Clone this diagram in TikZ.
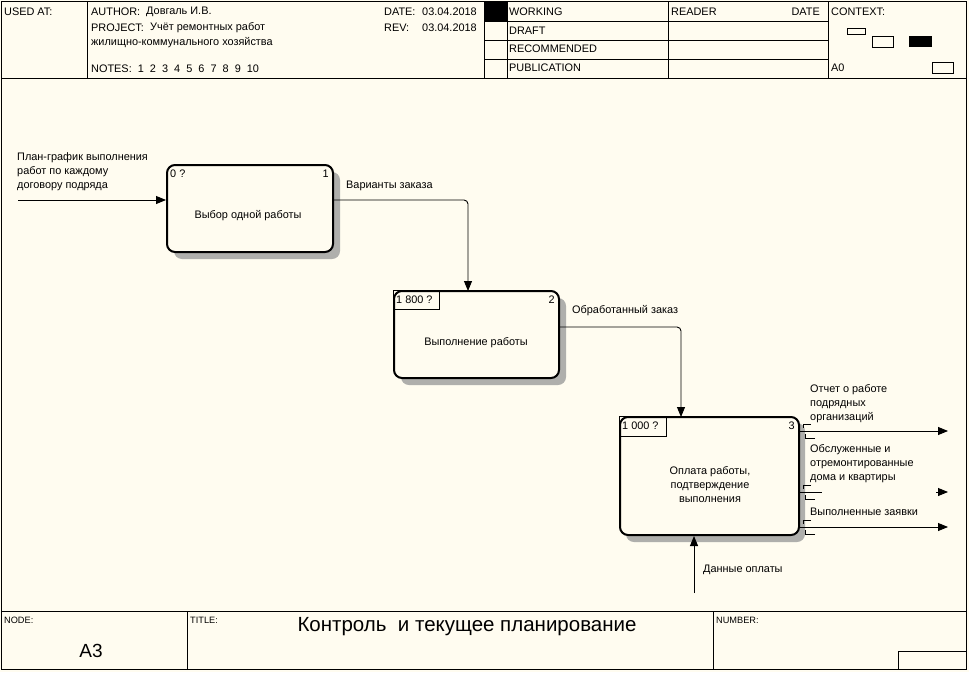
\documentclass[tikz,border=0pt]{standalone}
\usepackage{fontspec}
\setmainfont{Liberation Sans}
\usetikzlibrary{arrows.meta,calc}
\definecolor{bg}{RGB}{255,252,240}
\definecolor{shad}{RGB}{175,175,172}
\begin{document}
\begin{tikzpicture}[x=1pt,y=-1pt,
  every node/.style={font=\fontsize{10.9}{12}\selectfont, inner sep=0pt},
  lbl/.style={anchor=west},
  multi/.style={anchor=west, align=left, font=\fontsize{10.9}{14}\selectfont},
  small/.style={anchor=west, font=\fontsize{9.2}{10}\selectfont},
  frame/.style={draw=black, line width=0.9pt},
  proc/.style={draw=black, line width=2pt, rounded corners=8pt, fill=bg, rectangle},
  numbox/.style={draw=black, line width=0.8pt},
  shadow/.style={fill=shad, rounded corners=8pt},
  arr/.style={-{Triangle[length=10pt,width=8pt]}, line width=0.9pt},
  plain/.style={line width=0.9pt},
  brk/.style={line width=0.7pt}
]
\useasboundingbox (0,0) rectangle (969,672);
\fill[bg] (0,0) rectangle (969,672);

% outer frame
\draw[frame] (1,1) rectangle (966,669);
% header
\draw[frame] (1,78) -- (966,78);
\draw[frame] (87,1) -- (87,78);
\draw[frame] (484,1) -- (484,78);
\draw[frame] (507,1) -- (507,78);
\draw[frame] (668,1) -- (668,78);
\draw[frame] (828,1) -- (828,78);
\draw[frame] (484,21) -- (828,21);
\draw[frame] (484,40) -- (828,40);
\draw[frame] (484,59) -- (828,59);
\fill[black] (484,1) rectangle (507,21);

\node[lbl] (usedat) at (4,12) {USED AT:};
\node[lbl] (author) at (91,12) {AUTHOR:};
\node[lbl] (authorv) at (146,12) {Довгаль И.В.};
\node[lbl] (project) at (91,28) {PROJECT:};
\node[lbl] (projectv) at (150,28) {Учёт ремонтных работ};
\node[lbl] (project2) at (91,43) {жилищно-коммунального хозяйства};
\node[lbl] (notes) at (91,69) {NOTES:\ \ 1\ \ 2\ \ 3\ \ 4\ \ 5\ \ 6\ \ 7\ \ 8\ \ 9\ \ 10};
\node[lbl] (date) at (384,12) {DATE:};
\node[lbl] (datev) at (422,12) {03.04.2018};
\node[lbl] (rev) at (384,28) {REV:};
\node[lbl] (revv) at (422,28) {03.04.2018};
\node[lbl] (working) at (509,12) {WORKING};
\node[lbl] (draft) at (509,31) {DRAFT};
\node[lbl] (recom) at (509,49) {RECOMMENDED};
\node[lbl] (publ) at (509,68) {PUBLICATION};
\node[lbl] (reader) at (671,12) {READER};
\node[anchor=east] (rdate) at (820,12) {DATE};
\node[lbl] (context) at (831,12) {CONTEXT:};
\node[lbl] (a0) at (831,68) {A0};
\draw[line width=0.8pt] (847,28) rectangle (865,34);
\draw[line width=0.8pt] (872,36) rectangle (893,47);
\fill[black] (909,36) rectangle (932,47);
\draw[line width=0.8pt] (932,62) rectangle (953,73);

% footer
\draw[frame] (1,611) -- (966,611);
\draw[frame] (187,611) -- (187,669);
\draw[frame] (713,611) -- (713,669);
\draw[frame] (898,651) -- (966,651);
\draw[frame] (898,651) -- (898,669);
\node[small] (nodel) at (4,620) {NODE:};
\node[small] (titlel) at (190,620) {TITLE:};
\node[small] (numberl) at (716,620) {NUMBER:};
\node[font=\fontsize{19}{22}\selectfont] (nodev) at (91,651) {A3};
\node[font=\fontsize{20.5}{22}\selectfont] (title) at (467,627) {Контроль\ \ и текущее планирование};

% shadows
\fill[shadow] (174,172) rectangle (340,259);
\fill[shadow] (401,298) rectangle (566,385);
\fill[shadow] (626,423) rectangle (805,542);

% process boxes
\node[proc, minimum width=166pt, minimum height=87pt] (b1) at (250,208.5) {};
\node[proc, minimum width=165pt, minimum height=87pt] (b2) at (476.5,334.5) {};
\node[proc, minimum width=179pt, minimum height=118pt] (b3) at (709.5,476) {};

\node[lbl] (b1c) at ($(b1.north west)+(4,10)$) {0 ?};
\node[anchor=east] (b1n) at ($(b1.north east)+(-5,10)$) {1};
\node (b1t) at (248,216) {Выбор одной работы};

\draw[numbox] (b2.north west) rectangle ($(b2.north west)+(46,19)$);
\node[lbl] (b2c) at ($(b2.north west)+(3,10)$) {1 800 ?};
\node[anchor=east] (b2n) at ($(b2.north east)+(-5,10)$) {2};
\node (b2t) at (476,343) {Выполнение работы};

\draw[numbox] (b3.north west) rectangle ($(b3.north west)+(47,20)$);
\node[lbl] (b3c) at ($(b3.north west)+(3,10)$) {1 000 ?};
\node[anchor=east] (b3n) at ($(b3.north east)+(-5,10)$) {3};
\node[align=center, font=\fontsize{10.9}{14}\selectfont] (b3t) at (710,485) {Оплата работы,\\подтверждение\\выполнения};

% input arrow
\coordinate (in1) at (18,200);
\draw[arr] (in1) -- (in1 -| b1.west);
\node[multi] (in1l) at (17,172) {План-график выполнения\\работ по каждому\\договору подряда};

% b1 -> b2
\coordinate (t2) at (468,291);
\draw[arr, rounded corners=4pt] (in1 -| b1.east) -| (t2);
\node[lbl] (l12) at (346,186) {Варианты заказа};

% b2 -> b3
\coordinate (o2) at (559,327);
\coordinate (t3) at (681,417);
\draw[arr, rounded corners=4pt] (o2) -| (t3);
\node[lbl] (l23) at (572,311) {Обработанный заказ};

% outputs
\coordinate (e1) at (948,431);
\coordinate (e2) at (948,492);
\coordinate (e3) at (948,527);
\coordinate (s2) at (822,492);
\coordinate (s2b) at (936,492);
\draw[arr] (e1 -| b3.east) -- (e1);
\draw[plain] (e2 -| b3.east) -- (s2);
\draw[arr] (s2b) -- (e2);
\draw[arr] (e3 -| b3.east) -- (e3);
\node[multi] (o1l) at (810,404) {Отчет о работе\\подрядных\\организаций};
\node[multi] (o2l) at (810,464) {Обслуженные и\\отремонтированные\\дома и квартиры};
\node[lbl] (o3l) at (810,512) {Выполненные заявки};

% tunnel brackets
\foreach \yy in {431,492,527}{
  \draw[brk] (811,\yy-7) -- (803,\yy-7) -- (803,\yy-3);
  \draw[brk] (815,\yy+7) -- (805,\yy+7) -- (805,\yy+3);
}

% control from bottom
\coordinate (c3) at (694,593);
\draw[arr] (c3) -- (c3 |- b3.south);
\node[lbl] (c3l) at (703,570) {Данные оплаты};
\end{tikzpicture}
\end{document}
